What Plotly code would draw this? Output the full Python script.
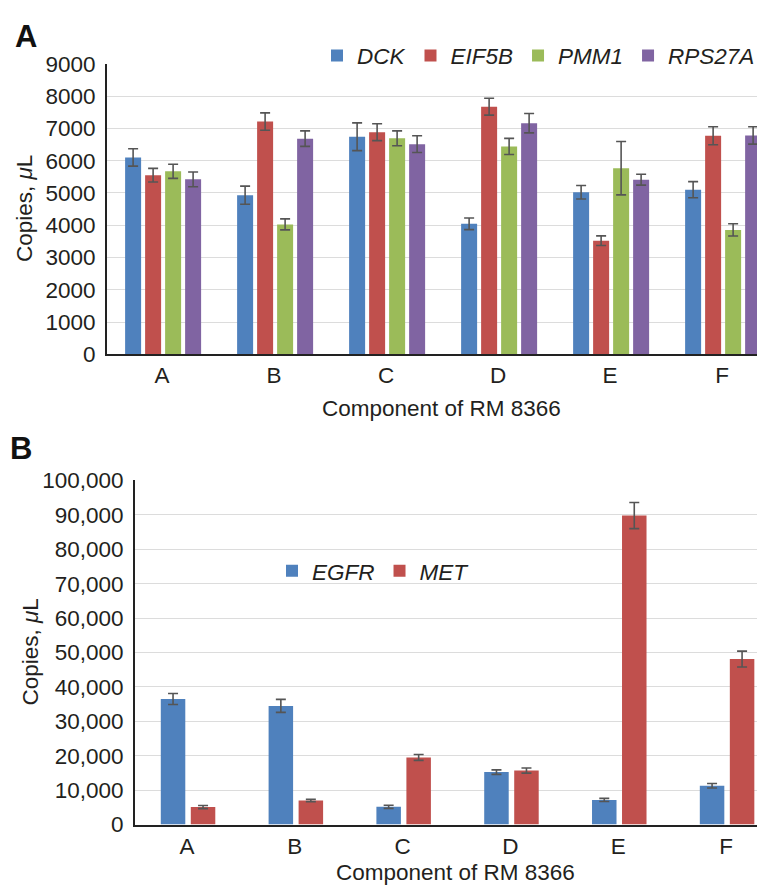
import plotly.graph_objects as go

W, H = 765, 896
OFF = 8  # page offset of the figure (body margin)

components = ["A", "B", "C", "D", "E", "F"]

# Panel A values (copies/uL) and error bars
genes_a = ["DCK", "EIF5B", "PMM1", "RPS27A"]
dck = [6100, 4930, 6740, 4045, 5020, 5100]
dck_err = [270, 280, 430, 180, 210, 250]
eif5b = [5550, 7210, 6880, 7670, 3520, 6770]
eif5b_err = [210, 270, 260, 260, 150, 280]
pmm1 = [5670, 4025, 6690, 6440, 5765, 3855]
pmm1_err = [220, 170, 230, 250, 825, 190]
rps27a = [5420, 6680, 6510, 7160, 5410, 6780]
rps27a_err = [230, 240, 260, 300, 170, 270]

# Panel B values
genes_b = ["EGFR", "MET"]
egfr = [36500, 34500, 5180, 15250, 7160, 11300]
egfr_err = [1600, 1900, 450, 650, 450, 650]
met = [5080, 6970, 19500, 15700, 89800, 48100]
met_err = [450, 350, 850, 750, 3800, 2300]

ticks_a = [0, 1000, 2000, 3000, 4000, 5000, 6000, 7000, 8000, 9000]
ticks_b = [0, 10000, 20000, 30000, 40000, 50000, 60000, 70000, 80000, 90000, 100000]

colors_a = ["#4F81BD", "#C0504D", "#9BBB59", "#8064A2"]
colors_b = ["#4F81BD", "#C0504D"]

FONT = "Liberation Sans, Arial, Helvetica, sans-serif"
TXT = "#231f20"
ERRC = "#555555"
FS = 22.5


def px(x):
    return (x - OFF) / W


def py(y):
    return 1 - (y - OFF) / H


fig = go.Figure()

# Panel A bar geometry (in category units)
pitch_a = 20 / 112
width_a = 16 / 112
series_a = [(dck, dck_err), (eif5b, eif5b_err), (pmm1, pmm1_err), (rps27a, rps27a_err)]
for i, (name, (vals, errs), col) in enumerate(zip(genes_a, series_a, colors_a)):
    center = (i - 1.5) * pitch_a + 0.01
    fig.add_trace(go.Bar(
        x=components, y=vals, name="<i>" + name + "</i>", xaxis="x", yaxis="y",
        marker=dict(color=col, line=dict(width=0)),
        width=width_a, offset=center - width_a / 2,
        error_y=dict(type="data", array=errs, visible=True, color=ERRC, thickness=1.6, width=5),
        legend="legend",
    ))

pitch_b = 30 / 107.8
width_b = 24.5 / 107.8
series_b = [(egfr, egfr_err), (met, met_err)]
for i, (name, (vals, errs), col) in enumerate(zip(genes_b, series_b, colors_b)):
    center = (i - 0.5) * pitch_b + 0.01
    fig.add_trace(go.Bar(
        x=components, y=vals, name="<i>" + name + "</i>", xaxis="x2", yaxis="y2",
        marker=dict(color=col, line=dict(width=0)),
        width=width_b, offset=center - width_b / 2,
        error_y=dict(type="data", array=errs, visible=True, color=ERRC, thickness=1.6, width=5),
        legend="legend2",
    ))

axis_common = dict(
    showline=True, linecolor="#222222", linewidth=2, ticks="",
    tickfont=dict(family=FONT, size=FS, color=TXT),
    zeroline=False,
)

# category positions: A panel centre of "A" at page x 162, step 112; B panel 187, step 107.8
fig.update_layout(
    width=W, height=H,
    margin=dict(l=0, r=0, t=0, b=0),
    paper_bgcolor="white", plot_bgcolor="white",
    barmode="overlay",
    font=dict(family=FONT, color=TXT),
    xaxis=dict(domain=[px(107), 1], anchor="y", type="category",
               range=[-0.491, (W + OFF - 162) / 112], showgrid=False, ticklabelstandoff=0, **axis_common),
    yaxis=dict(domain=[py(352), py(53)], anchor="x", range=[0, 9000],
               tickvals=ticks_a, tickformat="d", showgrid=True, gridcolor="#dcdcdc", gridwidth=1.3,
               ticklabelstandoff=5, **axis_common),
    xaxis2=dict(domain=[px(135), 1], anchor="y2", type="category",
                range=[-0.482, (W + OFF - 187) / 107.8], showgrid=False, ticklabelstandoff=0, **axis_common),
    yaxis2=dict(domain=[py(835.7), py(481.7)], anchor="x2", range=[0, 100000],
                tickvals=ticks_b, tickformat=",d", showgrid=True, gridcolor="#dcdcdc", gridwidth=1.3,
                ticklabelstandoff=5, **axis_common),
    legend=dict(orientation="h", x=px(317), y=py(45), xanchor="left", yanchor="middle",
                font=dict(family=FONT, size=FS, color=TXT), bgcolor="rgba(0,0,0,0)",
                itemclick=False, traceorder="normal"),
    legend2=dict(orientation="h", x=px(272), y=py(575), xanchor="left", yanchor="middle",
                 font=dict(family=FONT, size=FS, color=TXT), bgcolor="rgba(0,0,0,0)",
                 itemclick=False, traceorder="normal"),
    showlegend=True,
)

ann = [
    dict(text="<b>A</b>", x=px(25.5), y=py(24.5), font=dict(family=FONT, size=31, color="#111")),
    dict(text="<b>B</b>", x=px(20.5), y=py(448.5), font=dict(family=FONT, size=31, color="#111")),
    dict(text="Copies, <i>μ</i>L", x=px(24), y=py(202.5), textangle=-90,
         font=dict(family=FONT, size=FS, color=TXT)),
    dict(text="Copies, <i>μ</i>L", x=px(31), y=py(658.7), textangle=-90,
         font=dict(family=FONT, size=FS, color=TXT)),
    dict(text="Component of RM 8366", x=px(441.5), y=py(408), font=dict(family=FONT, size=FS, color=TXT)),
    dict(text="Component of RM 8366", x=px(455.5), y=py(885), font=dict(family=FONT, size=FS, color=TXT)),
]
for a in ann:
    a.update(xref="paper", yref="paper", showarrow=False, xanchor="center", yanchor="middle")
fig.update_layout(annotations=ann)

fig.write_html("out.html")
